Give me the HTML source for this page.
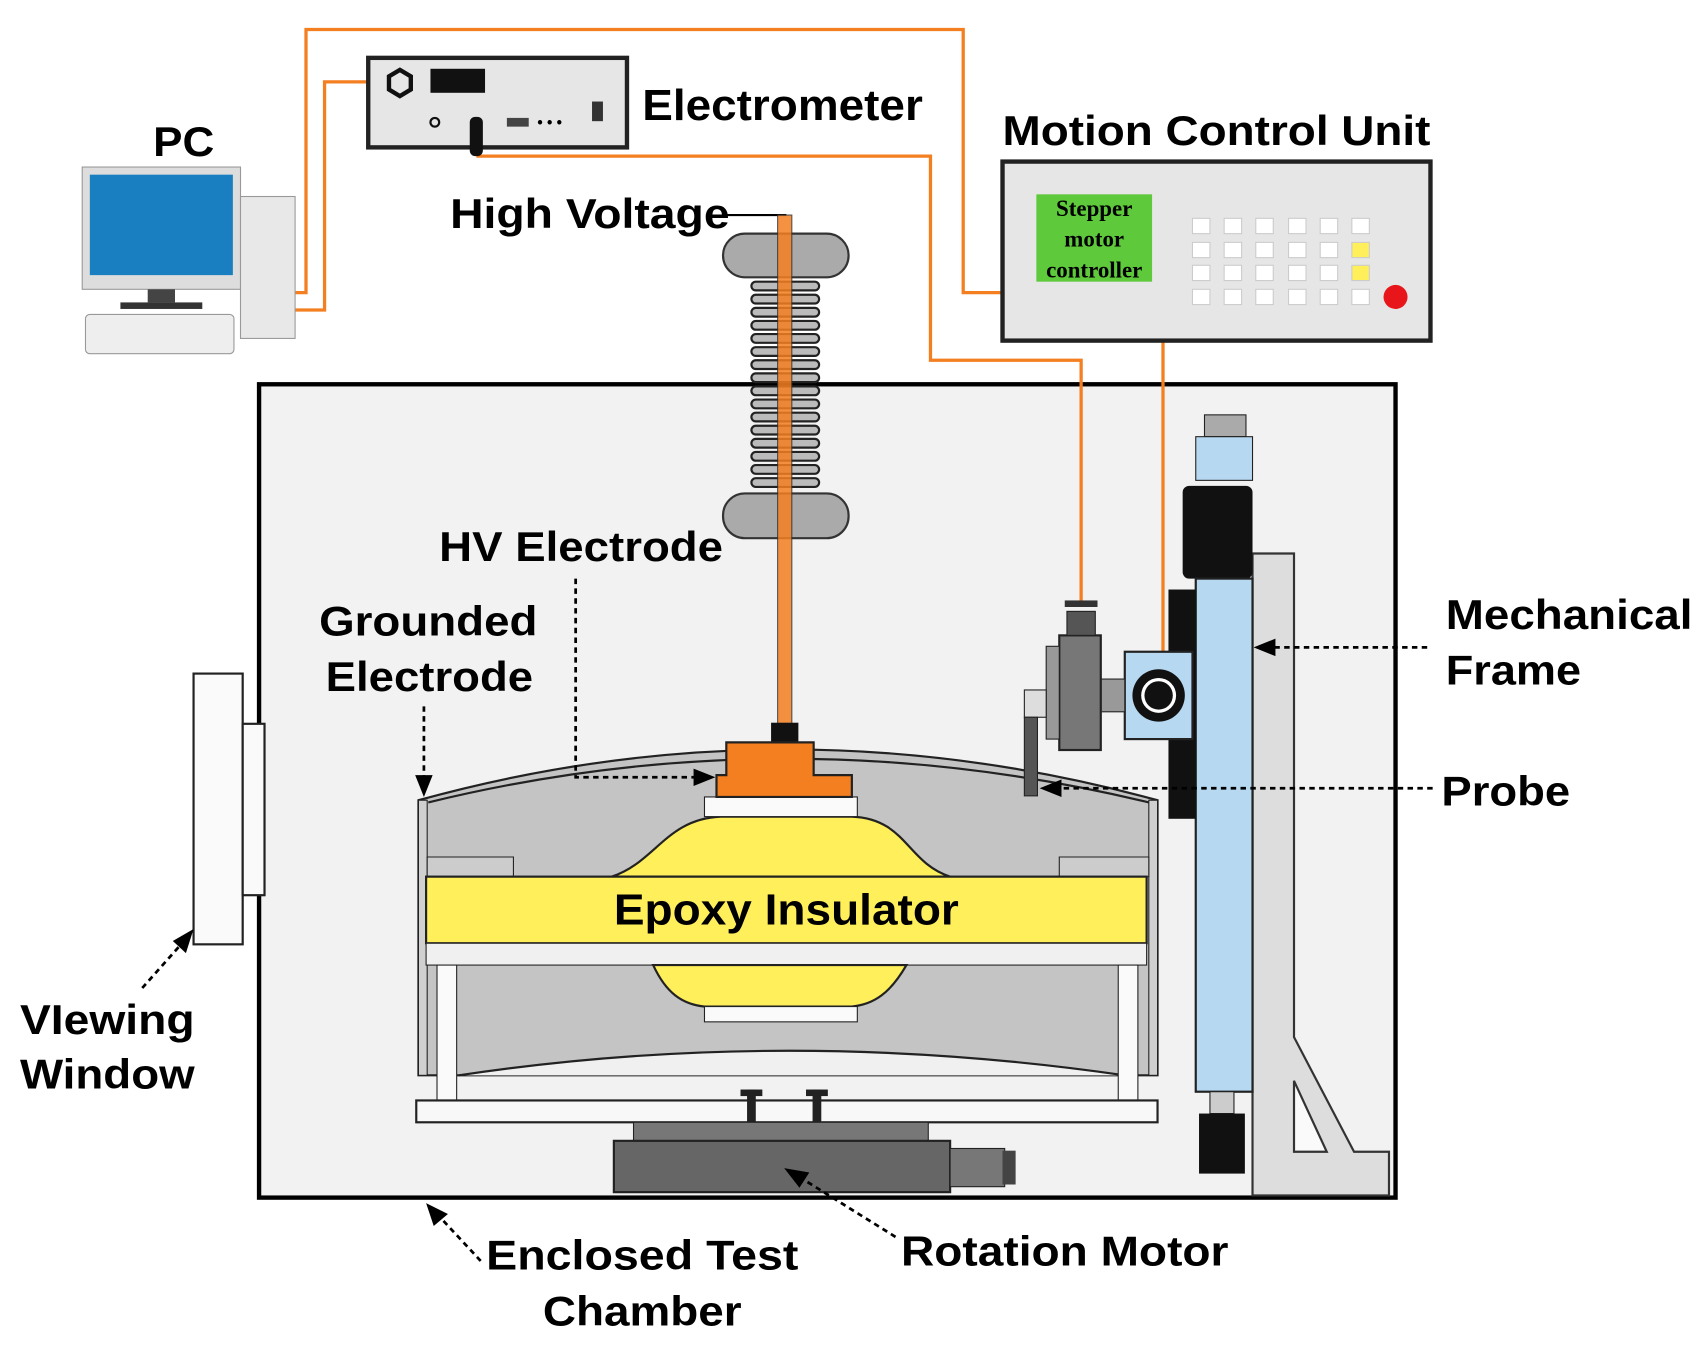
<!DOCTYPE html>
<html><head><meta charset="utf-8"><style>html,body{margin:0;padding:0;background:#fff}svg{display:block}text{font-family:"Liberation Sans",Arial,sans-serif;font-weight:bold}</style></head>
<body>
<svg width="1707" height="1357" viewBox="0 0 1563 1243" xmlns="http://www.w3.org/2000/svg">
<rect x="237" y="352" width="1041" height="745" fill="#f2f2f2" stroke="#000" stroke-width="4"/>
<g fill="none" stroke="#f47f20" stroke-width="3">
<polyline points="270,268 280,268 280,27 882,27 882,268 918,268"/>
<polyline points="270,284 297,284 297,75 355,75"/>
<polyline points="436,143 852,143 852,330 990,330 990,550"/>
<polyline points="1065,312 1065,600"/>
</g>
<rect x="75" y="153" width="145" height="112" fill="#ddd" stroke="#999"/>
<rect x="82" y="160" width="131" height="92" fill="#1a7fc1"/>
<rect x="135" y="265" width="25" height="12" fill="#444"/>
<rect x="110" y="277" width="75" height="6" fill="#333"/>
<rect x="78" y="288" width="136" height="36" rx="4" fill="#eee" stroke="#999"/>
<rect x="220" y="180" width="50" height="130" fill="#e8e8e8" stroke="#999"/>
<text x="140" y="143" font-size="38" textLength="56" lengthAdjust="spacingAndGlyphs">PC</text>
<rect x="337" y="53" width="237" height="82" fill="#e6e6e6" stroke="#222" stroke-width="4"/>
<rect x="394" y="63" width="50" height="22" fill="#111"/>
<polygon points="366,64 376,70 376,82 366,88 356,82 356,70" fill="none" stroke="#111" stroke-width="4"/>
<circle cx="398" cy="112" r="4" fill="none" stroke="#111" stroke-width="2"/>
<rect x="430" y="107" width="12" height="36" rx="5" fill="#111"/>
<rect x="464" y="108" width="20" height="8" fill="#444"/>
<text x="492" y="117" font-size="14">• • •</text>
<rect x="542" y="93" width="10" height="18" fill="#333"/>
<text x="588" y="110" font-size="40" textLength="257" lengthAdjust="spacingAndGlyphs">Electrometer</text>
<text x="918" y="133" font-size="38" textLength="392" lengthAdjust="spacingAndGlyphs">Motion Control Unit</text>
<rect x="918" y="148" width="392" height="164" fill="#e6e6e6" stroke="#222" stroke-width="4"/>
<rect x="949" y="178" width="106" height="80" fill="#5ec93a"/>
<g style="font-family:'Liberation Serif',serif" font-size="21" text-anchor="middle">
<text x="1002" y="198" style="font-family:'Liberation Serif',serif">Stepper</text>
<text x="1002" y="226" style="font-family:'Liberation Serif',serif">motor</text>
<text x="1002" y="254" style="font-family:'Liberation Serif',serif">controller</text>
</g>
<g fill="#fff" stroke="#ccc">
<rect x="1092" y="200" width="16" height="14"/><rect x="1121" y="200" width="16" height="14"/><rect x="1150" y="200" width="16" height="14"/><rect x="1180" y="200" width="16" height="14"/><rect x="1209" y="200" width="16" height="14"/><rect x="1238" y="200" width="16" height="14"/>
<rect x="1092" y="222" width="16" height="14"/><rect x="1121" y="222" width="16" height="14"/><rect x="1150" y="222" width="16" height="14"/><rect x="1180" y="222" width="16" height="14"/><rect x="1209" y="222" width="16" height="14"/><rect x="1238" y="222" width="16" height="14" fill="#ffef5a"/>
<rect x="1092" y="243" width="16" height="14"/><rect x="1121" y="243" width="16" height="14"/><rect x="1150" y="243" width="16" height="14"/><rect x="1180" y="243" width="16" height="14"/><rect x="1209" y="243" width="16" height="14"/><rect x="1238" y="243" width="16" height="14" fill="#ffef5a"/>
<rect x="1092" y="265" width="16" height="14"/><rect x="1121" y="265" width="16" height="14"/><rect x="1150" y="265" width="16" height="14"/><rect x="1180" y="265" width="16" height="14"/><rect x="1209" y="265" width="16" height="14"/><rect x="1238" y="265" width="16" height="14"/>
</g>
<circle cx="1278" cy="272" r="11" fill="#e8161b"/>
<text x="412" y="209" font-size="38" textLength="256" lengthAdjust="spacingAndGlyphs">High Voltage</text>
<line x1="665" y1="197" x2="720" y2="197" stroke="#000" stroke-width="2"/>
<rect x="662" y="214" width="115" height="40" rx="20" fill="#aaa" stroke="#333" stroke-width="2"/>
<g fill="#bbb" stroke="#222" stroke-width="2">
<rect x="688" y="258" width="62" height="8" rx="4"/><rect x="688" y="270" width="62" height="8" rx="4"/><rect x="688" y="282" width="62" height="8" rx="4"/><rect x="688" y="294" width="62" height="8" rx="4"/><rect x="688" y="306" width="62" height="8" rx="4"/><rect x="688" y="318" width="62" height="8" rx="4"/><rect x="688" y="330" width="62" height="8" rx="4"/><rect x="688" y="342" width="62" height="8" rx="4"/><rect x="688" y="354" width="62" height="8" rx="4"/><rect x="688" y="366" width="62" height="8" rx="4"/><rect x="688" y="378" width="62" height="8" rx="4"/><rect x="688" y="390" width="62" height="8" rx="4"/><rect x="688" y="402" width="62" height="8" rx="4"/><rect x="688" y="414" width="62" height="8" rx="4"/><rect x="688" y="426" width="62" height="8" rx="4"/><rect x="688" y="438" width="62" height="8" rx="4"/>
</g>
<rect x="662" y="452" width="115" height="41" rx="20" fill="#aaa" stroke="#333" stroke-width="2"/>
<rect x="712" y="197" width="13" height="468" fill="#f47f20" opacity="0.85" stroke="#333"/>
<rect x="706" y="662" width="25" height="20" fill="#111"/>
<path d="M383,733 Q720,640 1060,733 L1060,985 L383,985 Z" fill="#c4c4c4" stroke="#222" stroke-width="2"/>
<path d="M392,735 Q720,655 1052,735" fill="none" stroke="#222" stroke-width="2"/>
<rect x="383" y="733" width="8" height="252" fill="#d0d0d0" stroke="#222"/>
<rect x="1052" y="733" width="8" height="252" fill="#d0d0d0" stroke="#222"/>
<path d="M391,785 L470,785 L470,803 L391,803 Z M970,785 L1052,785 L1052,803 L970,803 Z" fill="#ccc" stroke="#222"/>
<path d="M560,803 C600,790 610,750 660,748 L780,748 C830,750 830,790 870,803 Z" fill="#ffef5a" stroke="#222" stroke-width="2"/>
<rect x="645" y="730" width="140" height="18" fill="#fafafa" stroke="#222"/>
<path d="M665,680 L745,680 L745,710 L780,710 L780,730 L656,730 L656,710 L665,710 Z" fill="#f47f20" stroke="#222" stroke-width="2"/>
<rect x="390" y="803" width="660" height="61" fill="#ffef5a" stroke="#222" stroke-width="2"/>
<text x="562" y="847" font-size="40" textLength="316" lengthAdjust="spacingAndGlyphs">Epoxy Insulator</text>
<rect x="390" y="864" width="660" height="20" fill="#f0f0f0" stroke="#222"/>
<path d="M598,884 L830,884 C815,910 800,920 780,922 L645,922 C625,920 610,910 598,884 Z" fill="#ffef5a" stroke="#222" stroke-width="2"/>
<rect x="645" y="922" width="140" height="14" fill="#fafafa" stroke="#222"/>
<path d="M420,985 Q720,940 1030,985" fill="#f0f0f0" stroke="#222" stroke-width="2"/>
<rect x="400" y="884" width="18" height="124" fill="#fafafa" stroke="#222"/>
<rect x="1024" y="884" width="18" height="124" fill="#fafafa" stroke="#222"/>
<rect x="381" y="1008" width="679" height="20" fill="#f8f8f8" stroke="#222" stroke-width="2"/>
<rect x="684" y="998" width="8" height="30" fill="#222"/><rect x="744" y="998" width="8" height="30" fill="#222"/>
<rect x="678" y="998" width="20" height="6" fill="#222"/><rect x="738" y="998" width="20" height="6" fill="#222"/>
<rect x="580" y="1028" width="270" height="17" fill="#777" stroke="#222"/>
<rect x="562" y="1045" width="308" height="47" fill="#666" stroke="#222" stroke-width="2"/>
<rect x="870" y="1052" width="50" height="35" fill="#777" stroke="#222"/>
<rect x="918" y="1054" width="12" height="31" fill="#444"/>
<rect x="177" y="617" width="45" height="248" fill="#fafafa" stroke="#222" stroke-width="2"/>
<rect x="222" y="663" width="20" height="157" fill="#fafafa" stroke="#222" stroke-width="2"/>
<path d="M1147,507 L1185,507 L1185,950 L1240,1055 L1272,1055 L1272,1095 L1147,1095 Z" fill="#ddd" stroke="#333" stroke-width="2"/>
<path d="M1185,990 L1215,1055 L1185,1055 Z" fill="#fafafa" stroke="#333" stroke-width="2"/>
<rect x="1103" y="380" width="38" height="20" fill="#aaa" stroke="#222"/>
<rect x="1095" y="400" width="52" height="40" fill="#b6d8f0" stroke="#222"/>
<rect x="1083" y="445" width="64" height="85" rx="6" fill="#111"/>
<rect x="1095" y="530" width="52" height="470" fill="#b6d8f0" stroke="#222" stroke-width="2"/>
<rect x="1070" y="540" width="25" height="210" fill="#111"/>
<rect x="1108" y="1000" width="22" height="20" fill="#ccc" stroke="#222"/>
<rect x="1098" y="1020" width="42" height="55" fill="#111"/>
<rect x="1030" y="597" width="62" height="80" fill="#b6d8f0" stroke="#222" stroke-width="2"/>
<circle cx="1061" cy="637" r="24" fill="#111"/><circle cx="1061" cy="637" r="16" fill="#fff"/><circle cx="1061" cy="637" r="13" fill="#111"/>
<rect x="1008" y="622" width="22" height="30" fill="#999" stroke="#222"/>
<rect x="970" y="582" width="38" height="105" fill="#777" stroke="#222" stroke-width="2"/>
<rect x="958" y="592" width="12" height="85" fill="#999" stroke="#222"/>
<rect x="977" y="560" width="26" height="22" fill="#555" stroke="#222"/>
<rect x="975" y="550" width="30" height="6" fill="#333"/>
<rect x="938" y="632" width="20" height="25" fill="#ddd" stroke="#222"/>
<rect x="938" y="657" width="12" height="72" fill="#555" stroke="#222"/>
<g fill="none" stroke="#000" stroke-width="2.5" stroke-dasharray="5,4">
<polyline points="527,530 527,712 640,712"/>
<polyline points="388,647 388,715"/>
<line x1="1307" y1="593" x2="1165" y2="593"/>
<line x1="1312" y1="722" x2="968" y2="722"/>
<line x1="130" y1="905" x2="170" y2="860"/>
<line x1="440" y1="1155" x2="400" y2="1112"/>
<line x1="820" y1="1133" x2="735" y2="1080"/>
</g>
<g fill="#000">
<polygon points="655,712 635,704 635,720"/>
<polygon points="388,730 380,710 396,710"/>
<polygon points="1148,593 1168,585 1168,601"/>
<polygon points="952,722 972,714 972,730"/>
<polygon points="177,851 158,862 170,873"/>
<polygon points="390,1102 397,1123 410,1112"/>
<polygon points="718,1070 732,1088 741,1074"/>
</g>
<text x="402" y="514" font-size="38" textLength="260" lengthAdjust="spacingAndGlyphs">HV Electrode</text>
<text x="292" y="582" font-size="38" textLength="200" lengthAdjust="spacingAndGlyphs">Grounded</text>
<text x="298" y="633" font-size="38" textLength="190" lengthAdjust="spacingAndGlyphs">Electrode</text>
<text x="1324" y="576" font-size="38" textLength="226" lengthAdjust="spacingAndGlyphs">Mechanical</text>
<text x="1324" y="627" font-size="38" textLength="124" lengthAdjust="spacingAndGlyphs">Frame</text>
<text x="1320" y="738" font-size="38" textLength="118" lengthAdjust="spacingAndGlyphs">Probe</text>
<text x="18" y="947" font-size="38" textLength="160" lengthAdjust="spacingAndGlyphs">VIewing</text>
<text x="18" y="997" font-size="38" textLength="160" lengthAdjust="spacingAndGlyphs">Window</text>
<text x="445" y="1163" font-size="38" textLength="286" lengthAdjust="spacingAndGlyphs">Enclosed Test</text>
<text x="497" y="1214" font-size="38" textLength="182" lengthAdjust="spacingAndGlyphs">Chamber</text>
<text x="825" y="1159" font-size="38" textLength="300" lengthAdjust="spacingAndGlyphs">Rotation Motor</text>
</svg>
</body></html>
